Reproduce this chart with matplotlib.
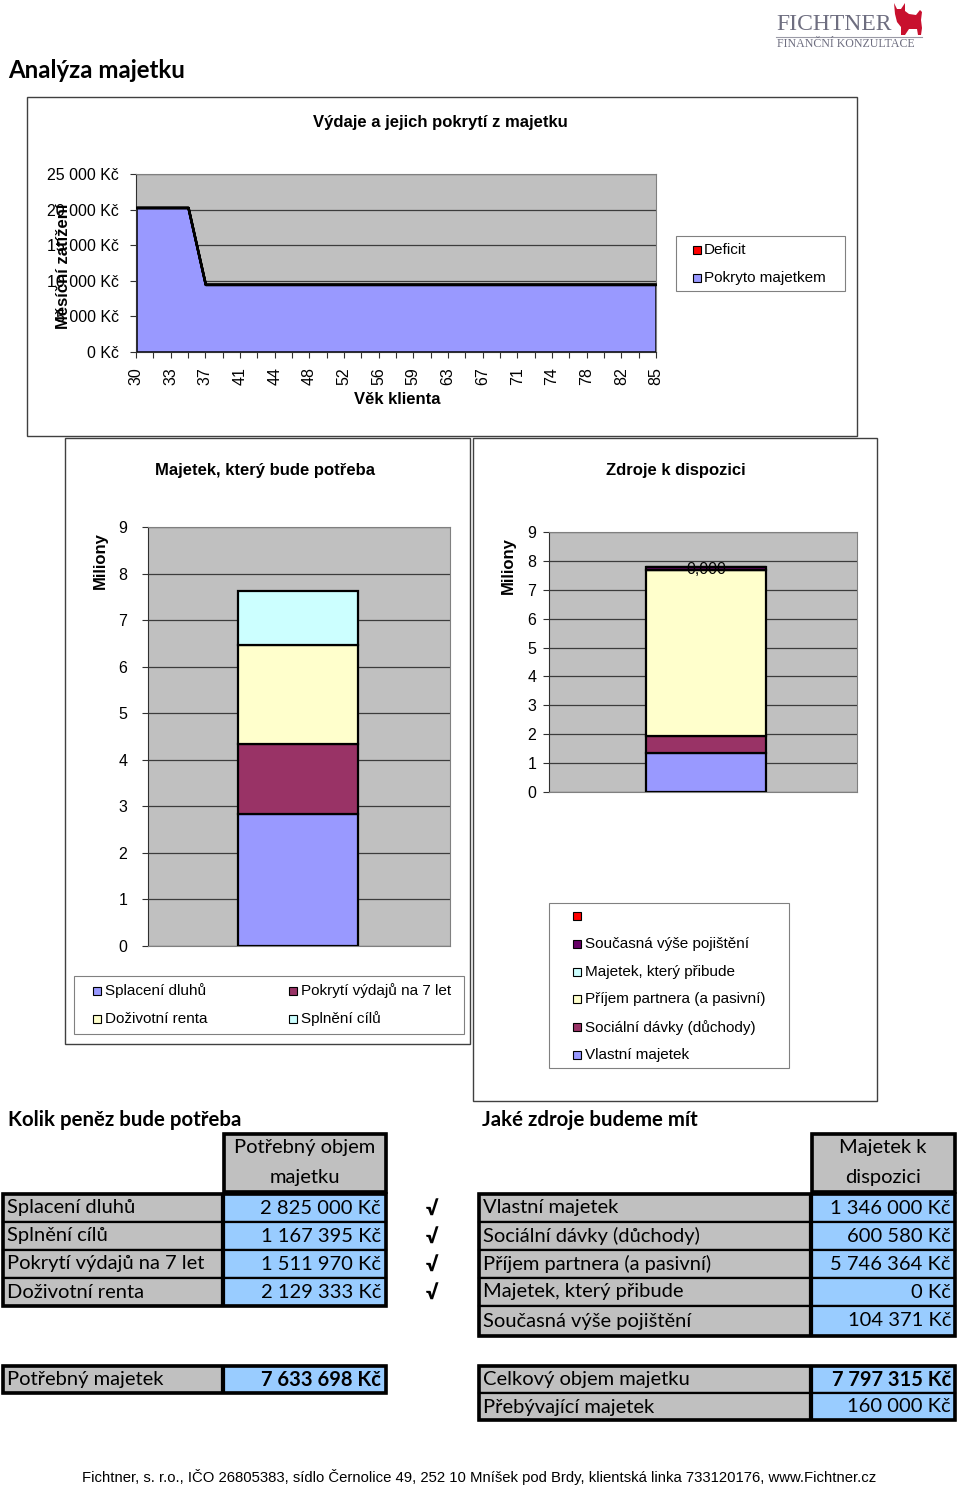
import matplotlib
matplotlib.use("Agg")
import matplotlib.pyplot as plt
from matplotlib.patches import Rectangle, Polygon
from matplotlib.ticker import FuncFormatter, FixedLocator
import numpy as np

# ---------------- data ----------------
age_labels = [30, 33, 37, 41, 44, 48, 52, 56, 59, 63, 67, 71, 74, 78, 82, 85]
covered_by_assets = [20300, 20300, 20300, 20300, 9500, 9500, 9500, 9500, 9500, 9500,
                     9500, 9500, 9500, 9500, 9500, 9500, 9500, 9500, 9500, 9500,
                     9500, 9500, 9500, 9500, 9500, 9500, 9500, 9500, 9500, 9500, 9500]
deficit = [0, 0, 0, 0, 0, 0, 0, 0, 0, 0, 0, 0, 0, 0, 0, 0,
           0, 0, 0, 0, 0, 0, 0, 0, 0, 0, 0, 0, 0, 0, 0]
top_series = ["Deficit", "Pokryto majetkem"]

need_categories = ["Splacení dluhů", "Pokrytí výdajů na 7 let", "Doživotní renta", "Splnění cílů"]
need_values = [2825000, 1511970, 2129333, 1167395]
need_table_order = ["Splacení dluhů", "Splnění cílů", "Pokrytí výdajů na 7 let", "Doživotní renta"]

res_categories = ["Vlastní majetek", "Sociální dávky (důchody)", "Příjem partnera (a pasivní)",
                  "Majetek, který přibude", "Současná výše pojištění", ""]
res_values = [1346000, 600580, 5746364, 0, 104371, 0]
surplus_value = 160000

# ---------------- style ----------------
W, H = 960, 1489
C_BLUE = "#9999FF"
C_MAROON = "#993366"
C_YELLOW = "#FFFFCC"
C_CYAN = "#CCFFFF"
C_PURPLE = "#660066"
C_RED = "#FF0000"
PLOT_BG = "#C0C0C0"
GRID = "#3C3C3C"
need_colors = [C_BLUE, C_MAROON, C_YELLOW, C_CYAN]
res_colors = [C_BLUE, C_MAROON, C_YELLOW, C_CYAN, C_PURPLE, C_RED]

ARIAL = ["Liberation Sans", "DejaVu Sans"]
CALIBRI = ["Lato", "DejaVu Sans"]
SERIF = ["Liberation Serif", "DejaVu Serif"]
plt.rcParams["font.family"] = ARIAL


def kc(v):
    return f"{v:,.0f}".replace(",", " ") + " Kč"


def rect(x0, y0, x1, y1):
    return [x0 / W, 1 - y1 / H, (x1 - x0) / W, (y1 - y0) / H]


fig = plt.figure(figsize=(W / 100, H / 100), dpi=100)
bg = fig.add_axes([0, 0, 1, 1])
bg.set_xlim(0, W)
bg.set_ylim(H, 0)
bg.axis("off")

# ---------------- logo & heading ----------------
bg.text(776, 25, "FICHTNER", fontsize=17, family=SERIF,
        color="#6E6E80", va="center", ha="left")
bg.plot([776, 922], [37, 37], color="#9a9aa6", lw=0.8)
bg.text(777, 44, "FINANČNÍ KONZULTACE", fontsize=8.6, family=SERIF,
        color="#6E6E80", va="center", ha="left")
bull = [(894, 3), (897, 9), (901, 9), (905, 3), (905, 11), (909, 14), (916, 15), (920, 10),
        (922, 12), (921, 20), (922, 28), (921, 35), (918, 35), (917, 29), (909, 29), (905, 35),
        (901, 35), (901, 27), (897, 22), (895, 14)]
bg.add_patch(Polygon(bull, closed=True, facecolor="#C8102E", edgecolor="none"))

bg.text(8, 70, "Analýza majetku", fontsize=17.3, fontweight="bold", family=CALIBRI,
        va="center", ha="left")

# ---------------- chart frames ----------------
for (x0, y0, x1, y1) in [(27, 97, 857, 436), (65, 438, 470, 1044), (473, 438, 877, 1101)]:
    bg.add_patch(Rectangle((x0, y0), x1 - x0, y1 - y0, facecolor="white",
                           edgecolor="#404040", lw=1.0))

# ---------------- top chart ----------------
ax1 = fig.add_axes(rect(136, 174, 656, 352))
x = np.arange(len(covered_by_assets))
cov = np.array(covered_by_assets)
dfc = cov + np.array(deficit)
ax1.set_facecolor(PLOT_BG)
ax1.fill_between(x, 0, cov, facecolor=C_BLUE, edgecolor="black", lw=1.8, zorder=2)
ax1.fill_between(x, cov, dfc, facecolor=C_RED, edgecolor="black", lw=1.8, zorder=3)
ax1.set_xlim(0, len(x) - 1)
ax1.set_ylim(0, 25000)
ax1.set_yticks(np.arange(0, 25001, 5000))
ax1.yaxis.set_major_formatter(FuncFormatter(lambda v, p: kc(v)))
ax1.yaxis.grid(True, color=GRID, lw=0.9)
ax1.set_axisbelow(True)
ax1.xaxis.set_major_locator(FixedLocator(np.arange(0, len(x), 2)))
ax1.xaxis.set_minor_locator(FixedLocator(np.arange(1, len(x), 2)))
ax1.set_xticklabels([str(a) for a in age_labels], rotation=90)
ax1.tick_params(axis="both", which="both", direction="out", length=4, width=0.8,
                color="#303030", labelsize=11.5)
ax1.tick_params(axis="y", pad=8.5)
ax1.tick_params(axis="x", pad=7)
for s in ["top", "right"]:
    ax1.spines[s].set_color("#808080")
for s in ["left", "bottom"]:
    ax1.spines[s].set_color("#303030")

bg.text(440, 122, "Výdaje a jejich pokrytí z majetku", fontsize=12, fontweight="bold",
        ha="center", va="center")
bg.text(397, 399, "Věk klienta", fontsize=12, fontweight="bold", ha="center", va="center")
bg.text(63, 266, "Měsíční zatížení", fontsize=12, fontweight="bold", ha="center",
        va="center", rotation=90)

# legend top
bg.add_patch(Rectangle((676, 236), 169, 55, facecolor="white", edgecolor="#808080", lw=0.8))
for i, (name, col) in enumerate(zip(top_series, [C_RED, C_BLUE])):
    yy = 250 + i * 28
    bg.add_patch(Rectangle((693, yy - 4), 8, 8, facecolor=col, edgecolor="black", lw=0.8))
    bg.text(704, yy, name, fontsize=11, ha="left", va="center")

# ---------------- bottom-left chart ----------------
ax2 = fig.add_axes(rect(148, 527, 450, 946))
ax2.set_facecolor(PLOT_BG)
bottom = 0.0
for val, col in zip(need_values, need_colors):
    ax2.bar(0.497, val / 1e6, width=0.397, bottom=bottom, color=col, edgecolor="black",
            lw=1.6, zorder=3)
    bottom += val / 1e6
ax2.set_xlim(0, 1)
ax2.set_ylim(0, 9)
ax2.set_yticks(range(0, 10))
ax2.set_xticks([])
ax2.yaxis.grid(True, color=GRID, lw=0.9)
ax2.set_axisbelow(True)
ax2.tick_params(axis="y", direction="out", length=4, width=0.8, color="#303030",
                labelsize=11.5, pad=11)
for s in ["top", "right", "bottom"]:
    ax2.spines[s].set_color("#808080")
ax2.spines["left"].set_color("#303030")

bg.text(265, 470, "Majetek, který bude potřeba", fontsize=12, fontweight="bold",
        ha="center", va="center")
bg.text(100, 561, "Miliony", fontsize=12, fontweight="bold", ha="center", va="center",
        rotation=90)

bg.add_patch(Rectangle((74, 976), 390, 58, facecolor="white", edgecolor="#808080", lw=0.8))
leg_pos = [(93, 991), (289, 991), (93, 1019), (289, 1019)]
for (name, col), (lx, ly) in zip(zip(need_categories, need_colors), leg_pos):
    bg.add_patch(Rectangle((lx, ly - 4), 8, 8, facecolor=col, edgecolor="black", lw=0.8))
    bg.text(lx + 12, ly, name, fontsize=11, ha="left", va="center")

# ---------------- bottom-right chart ----------------
ax3 = fig.add_axes(rect(549, 532, 857, 792))
ax3.set_facecolor(PLOT_BG)
bottom = 0.0
for val, col in zip(res_values, res_colors):
    ax3.bar(0.51, val / 1e6, width=0.39, bottom=bottom, color=col, edgecolor="black",
            lw=1.6, zorder=3)
    bottom += val / 1e6
ax3.text(0.51, bottom - 0.08, f"{res_values[-1] / 1e6:.3f}".replace(".", ","), fontsize=11.5,
         ha="center", va="center", zorder=5)
ax3.set_xlim(0, 1)
ax3.set_ylim(0, 9)
ax3.set_yticks(range(0, 10))
ax3.set_xticks([])
ax3.yaxis.grid(True, color=GRID, lw=0.9)
ax3.set_axisbelow(True)
ax3.tick_params(axis="y", direction="out", length=4, width=0.8, color="#303030",
                labelsize=11.5, pad=5)
for s in ["top", "right", "bottom"]:
    ax3.spines[s].set_color("#808080")
ax3.spines["left"].set_color("#303030")

bg.text(676, 471, "Zdroje k dispozici", fontsize=12, fontweight="bold", ha="center",
        va="center")
bg.text(508, 566, "Miliony", fontsize=12, fontweight="bold", ha="center", va="center",
        rotation=90)

bg.add_patch(Rectangle((549, 903), 240, 165, facecolor="white", edgecolor="#808080", lw=0.8))
for i, (name, col) in enumerate(zip(res_categories[::-1], res_colors[::-1])):
    ly = 916 + i * 27.8
    bg.add_patch(Rectangle((573, ly - 4), 8, 8, facecolor=col, edgecolor="black", lw=0.8))
    bg.text(585, ly, name, fontsize=11, ha="left", va="center")

# ---------------- tables ----------------
GREY = "#C0C0C0"
LBLUE = "#99CCFF"
TFS = 14.5


def cell(x0, y0, x1, y1, color, lw=1.6):
    bg.add_patch(Rectangle((x0, y0), x1 - x0, y1 - y0, facecolor=color, edgecolor="black",
                           lw=lw, zorder=2))


def outline(x0, y0, x1, y1, lw=2.6):
    bg.add_patch(Rectangle((x0, y0), x1 - x0, y1 - y0, facecolor="none", edgecolor="black",
                           lw=lw, zorder=3))


bg.text(8, 1120, "Kolik peněz bude potřeba", fontsize=14.7, fontweight="bold", family=CALIBRI,
        ha="left", va="center")
bg.text(482, 1120, "Jaké zdroje budeme mít", fontsize=14.7, fontweight="bold", family=CALIBRI,
        ha="left", va="center")

# left header
cell(224, 1134, 386, 1192, GREY)
outline(224, 1134, 386, 1192)
bg.text(305, 1148, "Potřebný objem", fontsize=TFS, family=CALIBRI, ha="center", va="center",
        zorder=4)
bg.text(305, 1177, "majetku", fontsize=TFS, family=CALIBRI, ha="center", va="center", zorder=4)

need_lookup = dict(zip(need_categories, need_values))
row_h = 28
for i, name in enumerate(need_table_order):
    y0 = 1194 + i * row_h
    cell(3, y0, 222, y0 + row_h, GREY)
    cell(224, y0, 386, y0 + row_h, LBLUE)
    bg.text(7, y0 + row_h / 2, name, fontsize=TFS, family=CALIBRI, ha="left", va="center",
            zorder=4)
    bg.text(381, y0 + row_h / 2, kc(need_lookup[name]), fontsize=TFS, family=CALIBRI,
            ha="right", va="center", zorder=4)
    bg.text(432, y0 + row_h / 2 + 1, "√", fontsize=TFS, family=CALIBRI, fontweight="heavy",
            ha="center", va="center", zorder=4)
outline(3, 1194, 386, 1194 + row_h * len(need_table_order))

# right header
cell(812, 1134, 955, 1192, GREY)
outline(812, 1134, 955, 1192)
bg.text(883, 1148, "Majetek k", fontsize=TFS, family=CALIBRI, ha="center", va="center",
        zorder=4)
bg.text(883, 1177, "dispozici", fontsize=TFS, family=CALIBRI, ha="center", va="center",
        zorder=4)

res_rows = list(zip(res_categories[:5], res_values[:5]))
for i, (name, val) in enumerate(res_rows):
    y0 = 1194 + i * row_h
    y1 = y0 + row_h if i < len(res_rows) - 1 else 1336
    cell(479, y0, 810, y1, GREY)
    cell(812, y0, 955, y1, LBLUE)
    bg.text(483, (y0 + y1) / 2, name, fontsize=TFS, family=CALIBRI, ha="left", va="center",
            zorder=4)
    bg.text(951, (y0 + y1) / 2, kc(val), fontsize=TFS, family=CALIBRI, ha="right",
            va="center", zorder=4)
outline(479, 1194, 955, 1336)

# summaries
total_need = sum(need_values)
total_res = sum(res_values)
cell(3, 1366, 222, 1393, GREY)
cell(224, 1366, 386, 1393, LBLUE)
outline(3, 1366, 386, 1393)
bg.text(7, 1380, "Potřebný majetek", fontsize=TFS, family=CALIBRI, ha="left", va="center",
        zorder=4)
bg.text(381, 1380, kc(total_need), fontsize=TFS, family=CALIBRI, fontweight="bold",
        ha="right", va="center", zorder=4)

cell(479, 1366, 810, 1393, GREY)
cell(812, 1366, 955, 1393, LBLUE)
cell(479, 1393, 810, 1420, GREY)
cell(812, 1393, 955, 1420, LBLUE)
outline(479, 1366, 955, 1420)
bg.text(483, 1380, "Celkový objem majetku", fontsize=TFS, family=CALIBRI, ha="left",
        va="center", zorder=4)
bg.text(951, 1380, kc(total_res), fontsize=TFS, family=CALIBRI, fontweight="bold",
        ha="right", va="center", zorder=4)
bg.text(483, 1407, "Přebývající majetek", fontsize=TFS, family=CALIBRI, ha="left",
        va="center", zorder=4)
bg.text(951, 1407, kc(surplus_value), fontsize=TFS, family=CALIBRI, ha="right",
        va="center", zorder=4)

# footer
bg.text(479, 1477, "Fichtner, s. r.o., IČO 26805383, sídlo Černolice 49, 252 10 Mníšek pod Brdy, "
        "klientská linka 733120176, www.Fichtner.cz", fontsize=10.75, ha="center", va="center")

fig.savefig("out.png", dpi=100)
